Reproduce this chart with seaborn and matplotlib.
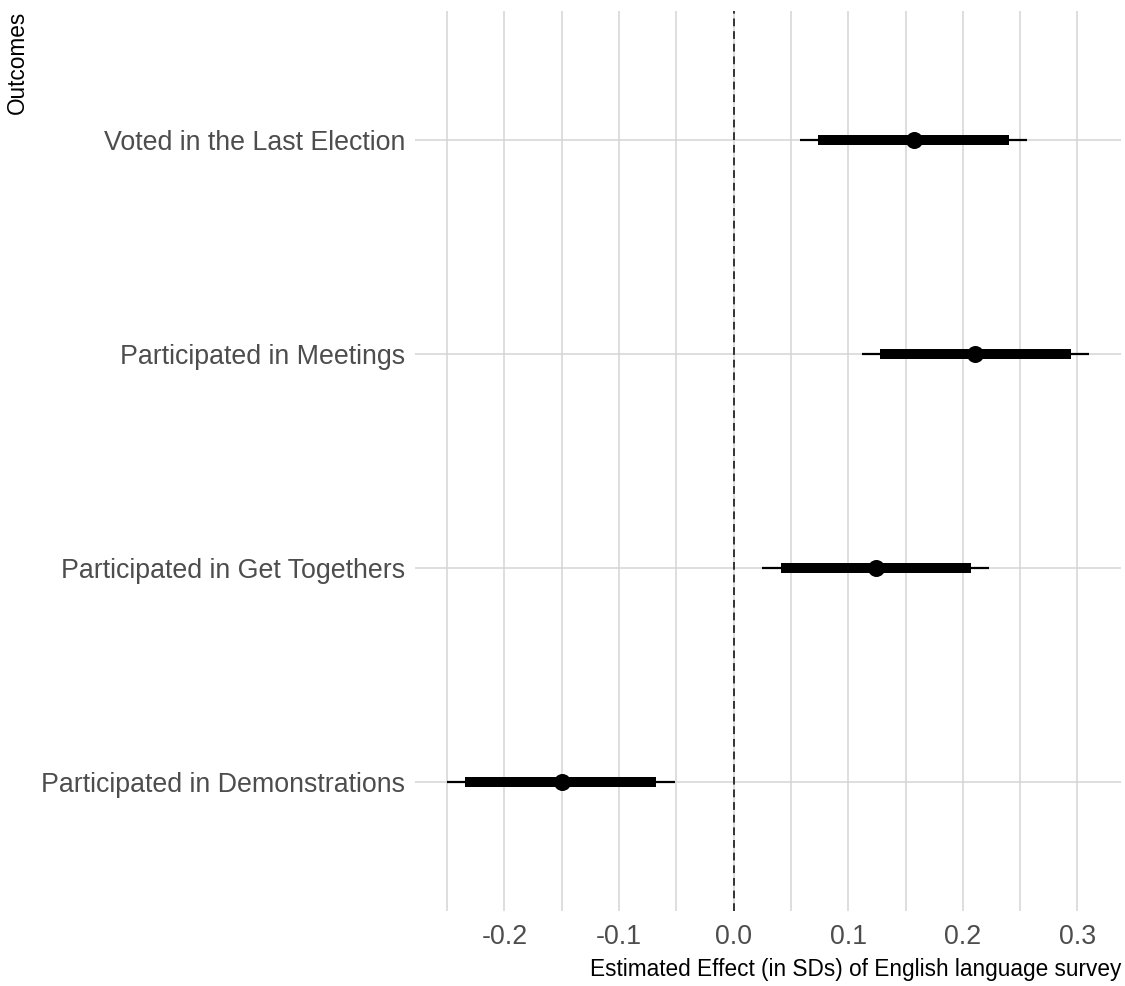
'''
Coefficient plot: estimated effect of English language survey on participation outcomes.
Point estimate with 90% (thick) and 95% (thin) intervals.
'''

# imports
import numpy as np
import pandas as pd
import seaborn as sns
import matplotlib.pyplot as plt

# data, top to bottom
outcomes = [
    "Voted in the Last Election",
    "Participated in Meetings",
    "Participated in Get Togethers",
    "Participated in Demonstrations"]
estimate = [0.157, 0.211, 0.1245, -0.150]
ci90_low = [0.074, 0.128, 0.041, -0.234]
ci90_high = [0.240, 0.294, 0.207, -0.0675]
ci95_low = [0.058, 0.112, 0.025, -0.250]
ci95_high = [0.256, 0.310, 0.223, -0.0515]

major_ticks = [-0.2, -0.1, 0.0, 0.1, 0.2, 0.3]
minor_ticks = [-0.25, -0.15, -0.05, 0.05, 0.15, 0.25]

text_dct = {'tick': 19.3, 'label': 16.3}
grid_col = '#d4d4d4'

# frame
d = pd.DataFrame({
    'outcome': outcomes,
    'estimate': estimate,
    'lo90': ci90_low, 'hi90': ci90_high,
    'lo95': ci95_low, 'hi95': ci95_high})
d['pos'] = np.arange(len(d))[::-1]  # first outcome on top

# theme
sns.set_theme(style='white')
plt.rcParams['font.family'] = ['Liberation Sans Narrow', 'Liberation Sans', 'DejaVu Sans']

fig = plt.figure(figsize=(11.25, 9.86), dpi=100)
ax = fig.add_axes([415/1125, 1 - 911/986, (1121 - 415)/1125, 900/986])

# grid
ax.set_xticks(major_ticks)
ax.set_xticks(minor_ticks, minor=True)
ax.set_yticks(d['pos'])
ax.set_yticklabels(d['outcome'])
ax.grid(True, which='both', axis='x', color=grid_col, lw=1.1)
ax.grid(True, which='major', axis='y', color=grid_col, lw=1.1)
ax.set_axisbelow(True)

# zero line
ax.axvline(0, color='#333333', lw=1.4, ls=(0, (4, 2.5)), zorder=1)

# intervals
ax.hlines(d['pos'], d['lo95'], d['hi95'], color='black', lw=1.6, zorder=2)
ax.hlines(d['pos'], d['lo90'], d['hi90'], color='black', lw=7.2, zorder=3)

# points
sns.scatterplot(data=d, x='estimate', y='pos', color='black', s=150,
                edgecolor='black', linewidth=0, zorder=4, ax=ax)

ax.set_xlim(-0.278, 0.338)
ax.set_ylim(-0.6, len(d) - 0.4)
ax.set_xticklabels([f"{t:.1f}" for t in major_ticks])

for s in ax.spines.values():
    s.set_visible(False)
ax.tick_params(axis='both', which='both', length=0, labelsize=text_dct['tick'],
               labelcolor='#4d4d4d')
ax.tick_params(axis='y', pad=7)
ax.tick_params(axis='x', pad=9)

ax.set_xlabel('Estimated Effect (in SDs) of English language survey',
              size=text_dct['label'], color='black', loc='right', labelpad=6)
ax.set_ylabel('Outcomes', size=text_dct['label'], color='black', loc='top')
ax.yaxis.set_label_coords((29 - 415) / 706, 1.0)

plt.savefig('out.png', dpi=100)
